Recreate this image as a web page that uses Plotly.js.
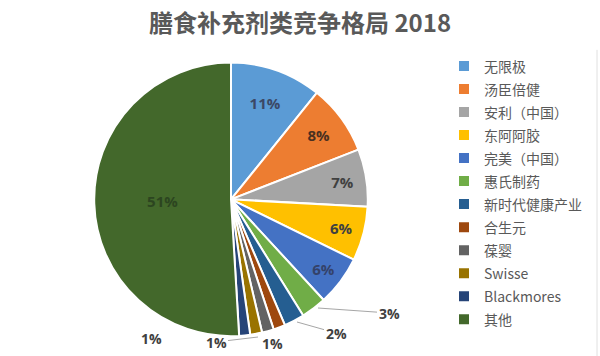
<!DOCTYPE html>
<html>
<head>
<meta charset="utf-8">
<script src="https://cdn.plot.ly/plotly-3.0.1.min.js"></script>
<style>html,body{margin:0;padding:0;background:#fff;}#chart{width:600px;height:356px;}</style>
</head>
<body>
<div id="chart"></div>
<script>
const labels = ["无限极","汤臣倍健","安利（中国）","东阿阿胶","完美（中国）","惠氏制药","新时代健康产业","合生元","葆婴","Swisse","Blackmores","其他"];
const shares = [10.8, 8.3, 6.8, 6.4, 5.9, 3.0, 2.4, 1.4, 1.4, 1.4, 1.3, 51.0];
const sliceColors = ["#5B9BD5","#ED7D31","#A5A5A5","#FFC000","#4472C4","#70AD47","#255E91","#9E480E","#636363","#997300","#264478","#43682B"];
const textPos = ["inside","inside","inside","inside","inside","none","none","none","none","none","none","inside"];
const textColors = ["#3b4866","#4a3020","#404040","#404040","#34426a","#404040","#404040","#404040","#404040","#404040","#404040","#2c4520"];

// outside labels for the small slices: [slice index, slice point px, label centre px]
const smallLabels = [
  [5, [318, 308], [389, 313]],
  [6, [297, 322], [336, 333]],
  [7, [265, 336], [272, 343]],
  [8, [258, 337], [216, 342]],
  [10, [240, 336], [151, 338]]
];
const leader = [true, true, false, true, false];

const W = 600, H = 356;
const annotations = smallLabels.map((s, k) => ({
  xref: "paper", yref: "paper",
  x: s[1][0] / W, y: 1 - s[1][1] / H,
  ax: s[2][0] - s[1][0], ay: s[2][1] - s[1][1],
  axref: "pixel", ayref: "pixel",
  text: "<b>" + shares[s[0]].toFixed(0) + "%</b>",
  showarrow: true, arrowhead: 0, arrowwidth: 1, arrowcolor: leader[k] ? "#a6a6a6" : "rgba(0,0,0,0)",
  standoff: 0, startstandoff: 0,
  font: {family: "Open Sans, Arial, sans-serif", size: 14, color: "#404040"}
}));

const trace = {
  type: "pie",
  labels: labels.map(l => '<span style="font-size:14px">' + l + '</span>'),
  values: shares,
  sort: false,
  direction: "clockwise",
  rotation: 0,
  marker: {colors: sliceColors, line: {color: "#ffffff", width: 2}},
  texttemplate: "%{value:.0f}%",
  textposition: textPos,
  insidetextorientation: "horizontal",
  textfont: {family: "Open Sans, Arial, sans-serif", size: 15, color: textColors, weight: "bold"},
  hoverinfo: "label+percent",
  domain: {x: [0.157, 0.613], y: [0.055, 0.825]}
};

const layout = {
  width: W, height: H,
  margin: {l: 0, r: 0, t: 0, b: 0},
  paper_bgcolor: "#ffffff",
  title: {text: "<b>膳食补充剂类竞争格局 2018</b>", x: 0.5, xanchor: "center", y: 0.933, yanchor: "middle",
          font: {family: "Noto Sans CJK SC, sans-serif", size: 24, color: "#595959"}},
  showlegend: true,
  legend: {x: 0.74, y: 0.861, xanchor: "left", yanchor: "top",
           font: {family: "Noto Sans CJK SC, sans-serif", size: 15.4, color: "#595959"},
           bgcolor: "rgba(0,0,0,0)"},
  annotations: annotations,
  shapes: [{type: "line", xref: "paper", yref: "paper", x0: 0.995, x1: 0.995, y0: 0, y1: 0.86,
            line: {color: "#e0e0e0", width: 1}}]
};

Plotly.newPlot("chart", [trace], layout, {displayModeBar: false, staticPlot: true});
</script>
</body>
</html>
